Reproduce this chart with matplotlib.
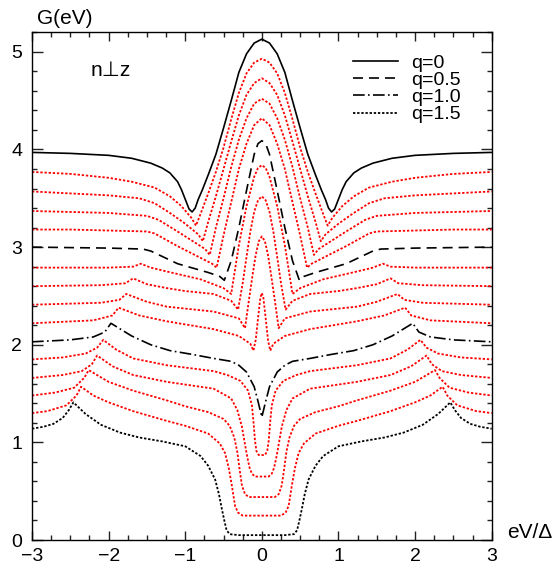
import matplotlib
matplotlib.use('Agg')
import matplotlib.pyplot as plt
import numpy as np

# the picture is symmetric in eV/Delta so the left half is the mirror.
x_q00 = [0, 0.1, 0.2, 0.3, 0.4, 0.5, 0.6, 0.7, 0.78, 0.83, 0.87, 0.91, 0.95, 1.0, 1.05, 1.1, 1.2, 1.3, 1.45, 1.7, 2.0, 2.5, 3.0]
g_q00 = [5.13, 5.09, 4.98, 4.79, 4.50, 4.22, 3.95, 3.74, 3.58, 3.49, 3.40, 3.36, 3.39, 3.49, 3.59, 3.67, 3.76, 3.81, 3.86, 3.91, 3.94, 3.96, 3.97]

x_q01 = [0, 0.1, 0.2, 0.3, 0.4, 0.5, 0.6, 0.7, 0.8, 0.86, 0.92, 1.05, 1.2, 1.4, 1.7, 2.0, 2.5, 3.0]
g_q01 = [4.93, 4.89, 4.78, 4.58, 4.31, 4.02, 3.77, 3.55, 3.34, 3.22, 3.30, 3.42, 3.52, 3.61, 3.67, 3.71, 3.75, 3.77]

x_q02 = [0, 0.1, 0.2, 0.3, 0.4, 0.5, 0.6, 0.7, 0.77, 0.83, 1.0, 1.2, 1.4, 1.6, 2.0, 2.5, 3.0]
g_q02 = [4.73, 4.68, 4.56, 4.35, 4.08, 3.80, 3.52, 3.26, 3.06, 3.13, 3.24, 3.35, 3.45, 3.50, 3.53, 3.55, 3.57]

x_q03 = [0, 0.1, 0.2, 0.3, 0.4, 0.5, 0.6, 0.68, 0.74, 0.9, 1.1, 1.35, 1.5, 2.0, 2.5, 3.0]
g_q03 = [4.52, 4.47, 4.32, 4.10, 3.82, 3.50, 3.20, 2.92, 2.98, 3.06, 3.16, 3.28, 3.32, 3.35, 3.36, 3.37]

x_q04 = [0, 0.1, 0.2, 0.3, 0.4, 0.5, 0.59, 0.65, 0.8, 1.1, 1.4, 1.5, 2.0, 2.5, 3.0]
g_q04 = [4.32, 4.25, 4.06, 3.80, 3.46, 3.12, 2.79, 2.83, 2.89, 3.01, 3.14, 3.16, 3.17, 3.18, 3.18]

x_q05 = [0, 0.05, 0.1, 0.2, 0.3, 0.4, 0.49, 0.55, 0.7, 1.1, 1.45, 1.55, 2.0, 3.0]
g_q05 = [4.09, 4.06, 3.95, 3.58, 3.20, 2.86, 2.66, 2.70, 2.74, 2.83, 2.96, 2.98, 2.99, 3.0]

x_q06 = [0, 0.05, 0.1, 0.2, 0.3, 0.36, 0.40, 0.5, 0.8, 1.24, 1.45, 1.58, 1.68, 2.0, 3.0]
g_q06 = [3.84, 3.81, 3.72, 3.42, 3.02, 2.72, 2.52, 2.58, 2.67, 2.75, 2.79, 2.83, 2.80, 2.79, 2.79]

x_q07 = [0, 0.05, 0.1, 0.15, 0.2, 0.25, 0.31, 0.4, 0.63, 1.0, 1.24, 1.5, 1.68, 1.78, 2.1, 3.0]
g_q07 = [3.52, 3.48, 3.36, 3.16, 2.90, 2.63, 2.36, 2.45, 2.52, 2.55, 2.58, 2.62, 2.68, 2.63, 2.61, 2.60]

x_q08 = [0, 0.04, 0.08, 0.12, 0.17, 0.22, 0.3, 0.63, 1.24, 1.5, 1.77, 1.86, 2.1, 3.0]
g_q08 = [3.11, 3.06, 2.92, 2.72, 2.45, 2.17, 2.27, 2.34, 2.39, 2.44, 2.52, 2.46, 2.43, 2.41]

x_q09 = [0, 0.02, 0.05, 0.08, 0.11, 0.15, 0.3, 0.63, 1.24, 1.6, 1.87, 1.95, 2.2, 3.0]
g_q09 = [2.53, 2.48, 2.27, 2.05, 1.94, 2.01, 2.09, 2.16, 2.24, 2.30, 2.38, 2.30, 2.25, 2.22]

x_q10 = [0, 0.05, 0.1, 0.2, 0.3, 0.4, 0.63, 0.9, 1.2, 1.45, 1.7, 1.97, 2.05, 2.2, 2.5, 3.0]
g_q10 = [1.26, 1.42, 1.57, 1.72, 1.79, 1.83, 1.86, 1.90, 1.94, 2.00, 2.09, 2.22, 2.13, 2.08, 2.05, 2.03]

x_q11 = [0, 0.04, 0.07, 0.09, 0.11, 0.13, 0.18, 0.28, 0.45, 0.63, 1.24, 1.68, 1.9, 2.07, 2.15, 2.3, 2.6, 3.0]
g_q11 = [0.87, 0.87, 0.91, 1.02, 1.22, 1.38, 1.53, 1.63, 1.69, 1.73, 1.79, 1.86, 1.95, 2.05, 1.97, 1.91, 1.87, 1.85]

x_q12 = [0, 0.09, 0.13, 0.16, 0.19, 0.22, 0.26, 0.32, 0.4, 0.63, 1.24, 1.68, 1.95, 2.15, 2.22, 2.35, 2.6, 3.0]
g_q12 = [0.65, 0.65, 0.68, 0.74, 0.85, 0.98, 1.16, 1.33, 1.45, 1.55, 1.62, 1.69, 1.78, 1.89, 1.80, 1.73, 1.69, 1.66]

x_q13 = [0, 0.17, 0.22, 0.26, 0.29, 0.32, 0.36, 0.42, 0.5, 0.7, 1.0, 1.24, 1.68, 2.0, 2.26, 2.32, 2.45, 2.7, 3.0]
g_q13 = [0.44, 0.44, 0.47, 0.56, 0.72, 0.90, 1.05, 1.17, 1.24, 1.31, 1.37, 1.43, 1.53, 1.62, 1.74, 1.66, 1.56, 1.51, 1.48]

x_q14 = [0, 0.25, 0.31, 0.35, 0.39, 0.43, 0.48, 0.55, 0.7, 1.0, 1.24, 1.68, 2.0, 2.2, 2.36, 2.42, 2.55, 2.8, 3.0]
g_q14 = [0.25, 0.25, 0.28, 0.35, 0.55, 0.73, 0.89, 0.99, 1.09, 1.17, 1.22, 1.32, 1.41, 1.48, 1.57, 1.48, 1.38, 1.32, 1.30]

x_q15 = [0, 0.3, 0.42, 0.46, 0.49, 0.52, 0.56, 0.61, 0.7, 0.8, 1.0, 1.3, 1.6, 1.85, 2.1, 2.3, 2.46, 2.52, 2.6, 2.72, 2.85, 3.0]
g_q15 = [0.05, 0.05, 0.06, 0.10, 0.20, 0.31, 0.47, 0.62, 0.76, 0.86, 0.96, 1.01, 1.05, 1.10, 1.18, 1.29, 1.41, 1.33, 1.25, 1.19, 1.16, 1.14]

curves_x = [x_q00, x_q01, x_q02, x_q03, x_q04, x_q05, x_q06, x_q07,
            x_q08, x_q09, x_q10, x_q11, x_q12, x_q13, x_q14, x_q15]
curves_g = [g_q00, g_q01, g_q02, g_q03, g_q04, g_q05, g_q06, g_q07,
            g_q08, g_q09, g_q10, g_q11, g_q12, g_q13, g_q14, g_q15]

legend_labels = {0: 'q=0', 5: 'q=0.5', 10: 'q=1.0', 15: 'q=1.5'}


def mirror(x, g):
    x = np.asarray(x, dtype=float)
    g = np.asarray(g, dtype=float)
    return np.concatenate([-x[::-1], x[1:]]), np.concatenate([g[::-1], g[1:]])


def style(k):
    if k == 0:
        return dict(color='black', lw=1.2, ls='-')
    if k == 5:
        return dict(color='black', lw=1.2, ls=(0, (6, 3.6)))
    if k == 10:
        return dict(color='black', lw=1.2, ls=(0, (7, 2, 1, 2)))
    if k == 15:
        return dict(color='black', lw=1.3, ls=(0, (1.3, 1.0)))
    return dict(color='red', lw=1.3, ls=(0, (1.3, 1.0)))


plt.rcParams['font.family'] = ['Liberation Sans', 'DejaVu Sans']
fig = plt.figure(figsize=(5.54, 5.66), dpi=100)
ax = fig.add_axes([0.0578, 0.0459, 0.8297, 0.897])

for k in range(len(curves_x)):
    xx, gg = mirror(curves_x[k], curves_g[k])
    ax.plot(xx, gg, label=legend_labels.get(k, '_nolegend_'), **style(k))

ax.set_xlim(-3, 3)
ax.set_ylim(0, 5.2)
ax.set_xticks([-3, -2, -1, 0, 1, 2, 3])
ax.set_xticks(np.arange(-3, 3.01, 0.25), minor=True)
ax.set_yticks([0, 1, 2, 3, 4, 5])
ax.set_yticks(np.arange(0, 5.21, 0.2), minor=True)
ax.tick_params(which='both', direction='in', top=True, right=True,
               labelsize=14, width=1.0, color='#222222')
ax.tick_params(axis='x', which='major', length=6.5, pad=6)
ax.tick_params(axis='x', which='minor', length=3.5)
ax.tick_params(axis='y', which='major', length=8, pad=7)
ax.tick_params(axis='y', which='minor', length=3.5)
for s in ax.spines.values():
    s.set_linewidth(1.0)

ax.text(-2.24, 4.81, 'n\u22a5z', fontsize=15, ha='left', va='center')
fig.text(37 / 554, 1 - 19 / 566, 'G(eV)', fontsize=15, ha='left', va='center')
fig.text(507 / 554, 1 - 533 / 566, 'eV/\u0394', fontsize=15, ha='left', va='center')

ax.legend(loc='upper left', bbox_to_anchor=(0.698, 0.957), frameon=False,
          fontsize=14, handlelength=2.3, handletextpad=0.7,
          labelspacing=-0.02, borderpad=0, borderaxespad=0)

fig.savefig('out.png', dpi=100)
